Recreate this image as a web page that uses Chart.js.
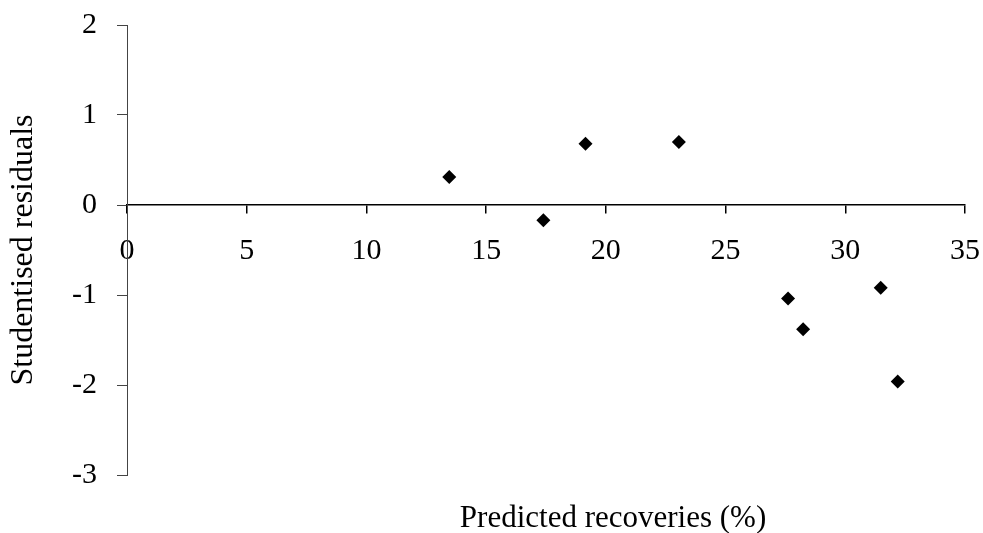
<!DOCTYPE html>
<html>
<head>
<meta charset="utf-8">
<script src="https://cdn.jsdelivr.net/npm/chart.js@4.4.1/dist/chart.umd.min.js"></script>
<style>
  html, body { margin: 0; padding: 0; background: #fff; }
  #wrap { width: 983px; height: 533px; position: relative; }
</style>
</head>
<body>
<div id="wrap"><canvas id="residualChart"></canvas></div>
<script>
// Predicted recoveries (%) vs studentised residuals
const predicted = [13.46, 17.39, 19.15, 23.05, 27.61, 28.24, 31.48, 32.19];
const residuals = [0.31, -0.17, 0.68, 0.70, -1.04, -1.38, -0.92, -1.96];
const xTicks = [0, 5, 10, 15, 20, 25, 30, 35];
const yTicks = [-3, -2, -1, 0, 1, 2];
const xTitleText = 'Predicted recoveries (%)';
const yTitleText = 'Studentised residuals';

const serif = "'Liberation Serif', 'Times New Roman', serif";

const points = predicted.map((x, i) => ({ x: x, y: residuals[i] }));

// x title sits a bit right of the plot centre, below the plot
const xTitlePlugin = {
    id: 'xTitlePlugin',
    afterDraw(chart) {
        const { ctx, chartArea } = chart;
        ctx.save();
        ctx.font = "31px " + serif;
        ctx.fillStyle = '#000';
        ctx.textAlign = 'center';
        ctx.textBaseline = 'middle';
        const cx = chartArea.left + (chartArea.right - chartArea.left) * 0.58;
        ctx.fillText(xTitleText, cx, chartArea.bottom + 44);
        ctx.restore();
    }
};

// let the layout padding alone decide the plot area
const noEdgePadding = s => {
    s.paddingTop = 0;
    s.paddingBottom = 0;
    s.paddingLeft = 0;
    s.paddingRight = 0;
};

new Chart(document.getElementById("residualChart"), {
    type: 'scatter',
    data: {
        datasets: [{
            label: 'Residuals',
            data: points,
            pointStyle: 'rectRot',
            pointRadius: 7,
            pointHoverRadius: 7,
            backgroundColor: '#000',
            borderColor: '#000',
            borderWidth: 0
        }]
    },
    options: {
        responsive: true,
        maintainAspectRatio: false,
        animation: false,
        events: [],
        layout: { padding: { top: 25, right: 18, left: 0, bottom: 58 } },
        plugins: { legend: { display: false }, tooltip: { enabled: false } },
        scales: {
            x: {
                type: 'linear',
                position: { y: 0 },
                min: xTicks[0],
                max: xTicks[xTicks.length - 1],
                afterBuildTicks: s => { s.ticks = xTicks.map(v => ({ value: v })); },
                afterFit: noEdgePadding,
                ticks: { font: { family: serif, size: 30 }, color: '#000', padding: 20, maxRotation: 0 },
                grid: { drawOnChartArea: false, tickLength: 8, color: '#000', lineWidth: 1.5 },
                border: { color: '#000', width: 1.5 }
            },
            y: {
                type: 'linear',
                position: 'left',
                min: yTicks[0],
                max: yTicks[yTicks.length - 1],
                afterBuildTicks: s => { s.ticks = yTicks.map(v => ({ value: v })); },
                afterFit: s => { noEdgePadding(s); s.width = 127; },
                ticks: { font: { family: serif, size: 30 }, color: '#000', padding: 20 },
                grid: { drawOnChartArea: false, tickLength: 10, color: '#444', lineWidth: 1 },
                border: { color: '#444', width: 1 },
                title: {
                    display: true,
                    text: yTitleText,
                    font: { family: serif, size: 32, lineHeight: 1 },
                    color: '#000',
                    padding: { top: 8, bottom: 0 }
                }
            }
        }
    },
    plugins: [xTitlePlugin]
});
</script>
</body>
</html>
